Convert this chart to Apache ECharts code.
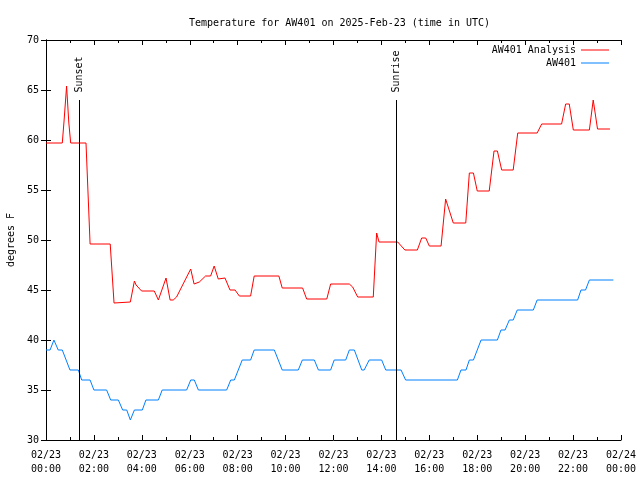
<!DOCTYPE html>
<html>
<head>
<meta charset="utf-8">
<script src="https://cdn.jsdelivr.net/npm/echarts@6/dist/echarts.min.js"></script>
<style>html,body{margin:0;padding:0;background:#fff}#c{width:640px;height:480px}</style>
</head>
<body>
<div id="c"></div>
<script>
// Hours since 2025-02-23 00:00 UTC and temperatures (degrees F)
var analysisHours = [0,0.68,0.75,0.86,0.95,1.03,1.67,1.84,2.68,2.84,3.52,3.69,3.76,3.99,4.52,4.69,5.01,5.18,5.31,5.45,6.04,6.18,6.4,6.66,6.87,7.02,7.19,7.47,7.68,7.89,8.07,8.54,8.69,9.72,9.86,10.71,10.88,11.72,11.88,12.66,12.8,13.01,13.66,13.8,13.9,14.68,14.98,15.5,15.68,15.85,16.0,16.49,16.68,17.0,17.52,17.67,17.84,18.0,18.5,18.7,18.84,19.02,19.5,19.69,20.5,20.69,21.52,21.69,21.84,22.01,22.68,22.84,23.02,23.54];
var analysisTemps = [59.7,59.7,61.8,65.4,61.8,59.7,59.7,49.6,49.6,43.7,43.8,45.9,45.5,44.9,44.9,44.0,46.2,44.0,44.0,44.3,47.1,45.6,45.8,46.4,46.4,47.4,46.1,46.2,45.0,45.0,44.4,44.4,46.4,46.4,45.2,45.2,44.1,44.1,45.6,45.6,45.3,44.3,44.3,50.7,49.8,49.8,49.0,49.0,50.2,50.2,49.4,49.4,54.1,51.7,51.7,56.7,56.7,54.9,54.9,58.9,58.9,57.0,57.0,60.7,60.7,61.6,61.6,63.6,63.6,61.0,61.0,64.0,61.1,61.1];
var obsHours = [0,0.17,0.33,0.51,0.68,1.0,1.35,1.49,1.84,2.0,2.53,2.7,3.02,3.2,3.37,3.52,3.69,4.02,4.17,4.69,4.85,5.87,6.04,6.19,6.36,7.54,7.71,7.86,8.19,8.54,8.69,9.53,9.86,10.53,10.7,11.2,11.37,11.88,12.03,12.51,12.66,12.87,13.18,13.28,13.49,14.01,14.18,14.82,15.01,17.17,17.32,17.53,17.67,17.84,18.16,18.84,18.99,19.16,19.34,19.5,19.67,20.34,20.5,22.19,22.33,22.52,22.68,23.68];
var obsTemps = [39,39,40,39,39,37,37,36,36,35,35,34,34,33,33,32,33,33,34,34,35,35,36,36,35,35,36,36,38,38,39,39,37,37,38,38,37,37,38,38,39,39,37,37,38,38,37,37,36,36,37,37,38,38,40,40,41,41,42,42,43,43,44,44,45,45,46,46];
var sunHours = [1.39, 14.61];
var sunLabels = ['Sunset', 'Sunrise'];
var sunLineTop = 64;
var xTickLabels = ['02/23\n00:00','02/23\n02:00','02/23\n04:00','02/23\n06:00','02/23\n08:00','02/23\n10:00','02/23\n12:00','02/23\n14:00','02/23\n16:00','02/23\n18:00','02/23\n20:00','02/23\n22:00','02/24\n00:00'];
var seriesNames = ['AW401 Analysis', 'AW401'];
var titleText = 'Temperature for AW401 on 2025-Feb-23 (time in UTC)';

function pairs(xs, ys) { return xs.map(function (x, i) { return [x, ys[i]]; }); }

var FONT = 'DejaVu Sans Mono';
var chart = echarts.init(document.getElementById('c'), null, { renderer: 'canvas' });
var axisLine = { show: true, lineStyle: { color: '#000', width: 1 } };
chart.setOption({
  animation: false,
  backgroundColor: '#fff',
  title: {
    text: titleText, left: 184, top: 13,
    textStyle: { fontFamily: FONT, fontSize: 10, fontWeight: 'normal', color: '#000' }
  },
  legend: {
    data: seriesNames, orient: 'vertical', align: 'right', right: 31, top: 44,
    itemWidth: 28, itemHeight: 1, itemGap: 1, padding: 0, icon: 'rect',
    textStyle: { fontFamily: FONT, fontSize: 10, color: '#000', lineHeight: 12 }
  },
  grid: { left: 46, right: 19, top: 40, bottom: 40, containLabel: false, outerBoundsMode: 'none' },
  xAxis: [{
    type: 'value', min: 0, max: 24, interval: 2, position: 'bottom',
    axisLine: axisLine,
    axisTick: { show: true, inside: true, length: 5, lineStyle: { color: '#000' } },
    minorTick: { show: true, splitNumber: 2, length: 3, lineStyle: { color: '#000' } },
    splitLine: { show: false },
    axisLabel: {
      margin: 8, fontFamily: FONT, fontSize: 10, color: '#000', lineHeight: 14,
      formatter: function (v) { return xTickLabels[Math.round(v / 2)]; }
    }
  }, {
    type: 'value', min: 0, max: 24, interval: 2, position: 'top',
    axisLine: axisLine,
    axisTick: { show: true, inside: true, length: 5, lineStyle: { color: '#000' } },
    minorTick: { show: true, splitNumber: 2, length: 3, lineStyle: { color: '#000' } },
    splitLine: { show: false }, axisLabel: { show: false }
  }],
  yAxis: [{
    type: 'value', min: 30, max: 70, interval: 5, position: 'left',
    name: 'degrees F', nameLocation: 'middle', nameRotate: 90, nameGap: 30,
    nameTextStyle: { fontFamily: FONT, fontSize: 10, color: '#000' },
    axisLine: axisLine,
    axisTick: { show: true, inside: true, length: 5, lineStyle: { color: '#000' } },
    splitLine: { show: false },
    axisLabel: { margin: 7, fontFamily: FONT, fontSize: 10, color: '#000' }
  }, {
    type: 'value', min: 30, max: 70, interval: 5, position: 'right',
    axisLine: axisLine,
    axisTick: { show: true, inside: true, length: 5, lineStyle: { color: '#000' } },
    splitLine: { show: false }, axisLabel: { show: false }
  }],
  series: [{
    name: seriesNames[0], type: 'line', xAxisIndex: 0, yAxisIndex: 0,
    data: pairs(analysisHours, analysisTemps), showSymbol: false, symbol: 'none',
    lineStyle: { color: '#ff0000', width: 1 }, itemStyle: { color: '#ff0000' }
  }, {
    name: seriesNames[1], type: 'line', xAxisIndex: 0, yAxisIndex: 0,
    data: pairs(obsHours, obsTemps), showSymbol: false, symbol: 'none',
    lineStyle: { color: '#0080ff', width: 1 }, itemStyle: { color: '#0080ff' }
  }, {
    name: 'sun', type: 'scatter', xAxisIndex: 0, yAxisIndex: 0, silent: true,
    symbolSize: 1, itemStyle: { color: 'rgba(0,0,0,0)' },
    data: sunHours.map(function (h) { return [h, sunLineTop]; }),
    label: {
      show: true, position: 'top', distance: 7, rotate: 90, align: 'left', verticalAlign: 'middle',
      fontFamily: FONT, fontSize: 10, color: '#000', opacity: 1,
      formatter: function (p) { return sunLabels[p.dataIndex]; }
    },
    markLine: {
      silent: true, symbol: ['none', 'none'], animation: false,
      lineStyle: { color: '#000', width: 1, type: 'solid' }, label: { show: false },
      data: sunHours.map(function (h) { return [{ coord: [h, sunLineTop] }, { coord: [h, 30] }]; })
    }
  }]
});
</script>
</body>
</html>
